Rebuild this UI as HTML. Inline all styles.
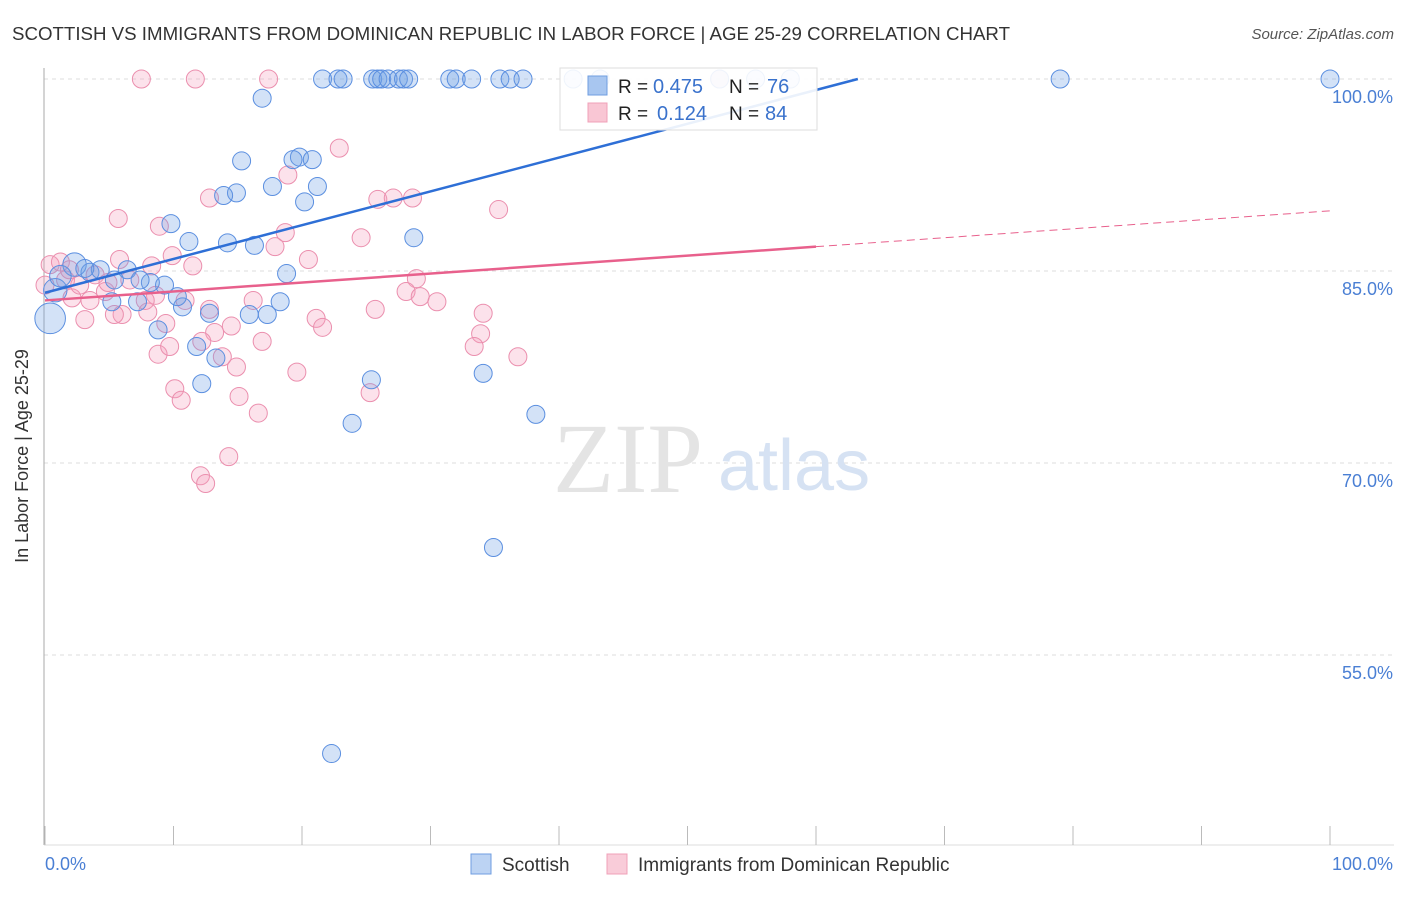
<!DOCTYPE html>
<html><head><meta charset="utf-8"><style>
body{margin:0;background:#fff;font-family:"Liberation Sans",sans-serif;}
</style></head><body>
<svg width="1406" height="892" xmlns="http://www.w3.org/2000/svg" font-family="Liberation Sans, sans-serif">
<text x="12" y="40" font-size="18.5" fill="#333" textLength="998" lengthAdjust="spacingAndGlyphs">SCOTTISH VS IMMIGRANTS FROM DOMINICAN REPUBLIC IN LABOR FORCE | AGE 25-29 CORRELATION CHART</text>
<text x="1394" y="39" font-size="15" fill="#555" text-anchor="end" font-style="italic">Source: ZipAtlas.com</text>
<g id="grid"></g>
<text x="553" y="492" font-size="100" fill="#e4e4e4" font-family="Liberation Serif, serif">ZIP</text>
<text x="718" y="490" font-size="72" fill="#d6e2f3">atlas</text>
<line x1="44" y1="68" x2="44" y2="845" stroke="#aaa"/>
<line x1="44" y1="845" x2="1394" y2="845" stroke="#ddd"/>
<g id="ticks"></g>
<g id="pts"></g>
<g id="lines"></g>
<text x="28" y="456" font-size="18" fill="#333" text-anchor="middle" transform="rotate(-90 28 456)">In Labor Force | Age 25-29</text>
<text x="45" y="870" font-size="18" fill="#4a7fd4">0.0%</text>
<text x="1393" y="870" font-size="18" fill="#4a7fd4" text-anchor="end">100.0%</text>
<g>
<rect x="560" y="68" width="257" height="62" fill="#fff" fill-opacity="0.9" stroke="#ddd"/>
<rect x="588" y="76" width="19" height="19" fill="#a8c6f0" stroke="#6f9ee0"/>
<rect x="588" y="103" width="19" height="19" fill="#f9c6d4" stroke="#f0a0b8"/>
<text x="618" y="93" font-size="19" fill="#222">R =</text>
<text x="653" y="93" font-size="20" fill="#3a72cc">0.475</text>
<text x="729" y="93" font-size="19" fill="#222">N =</text>
<text x="767" y="93" font-size="20" fill="#3a72cc">76</text>
<text x="618" y="120" font-size="19" fill="#222">R =</text>
<text x="657" y="120" font-size="20" fill="#3a72cc">0.124</text>
<text x="729" y="120" font-size="19" fill="#222">N =</text>
<text x="765" y="120" font-size="20" fill="#3a72cc">84</text>
</g>
<g>
<rect x="471" y="854" width="20" height="20" fill="#bcd3f3" stroke="#6f9ee0"/>
<text x="502" y="871" font-size="19" fill="#333">Scottish</text>
<rect x="607" y="854" width="20" height="20" fill="#f9ccd9" stroke="#f0a0b8"/>
<text x="638" y="871" font-size="19" fill="#333">Immigrants from Dominican Republic</text>
</g>
</svg>
<script>
const yTicks=[100,85,70,55];
const yTickLabels=["100.0%","85.0%","70.0%","55.0%"];
const xTicks=[0,10,20,30,40,50,60,70,80,90,100];
const blueX=[21.6,22.8,23.2,25.5,25.9,26.2,26.7,27.5,27.9,28.3,31.5,32.0,33.2,35.4,36.2,37.2,41.1,43.2,52.5,55.3,58.0,79.0,100,16.9,15.3,19.8,19.3,20.8,17.7,21.2,14.9,13.9,20.2,9.8,11.2,14.2,16.3,28.7,18.8,6.4,18.3,17.3,15.9,12.8,10.7,10.3,9.3,8.2,8.8,11.8,13.3,12.2,25.4,34.1,23.9,38.2,34.9,22.3,2.3,0.8,3.5,4.3,5.4,7.4,1.2,3.1,5.2,7.2,0.4];
const blueY=[100,100,100,100,100,100,100,100,100,100,100,100,100,100,100,100,100,100,100,100,100,100,100,98.5,93.6,93.9,93.7,93.7,91.6,91.6,91.1,90.9,90.4,88.7,87.3,87.2,87.0,87.6,84.8,85.1,82.6,81.6,81.6,81.7,82.2,83.0,83.9,84.1,80.4,79.1,78.2,76.2,76.5,77.0,73.1,73.8,63.4,47.3,85.5,83.5,84.9,85.1,84.3,84.3,84.6,85.2,82.6,82.6,81.3];
const blueSize=[1,1,1,1,1,1,1,1,1,1,1,1,1,1,1,1,1,1,1,1,1,1,1,1,1,1,1,1,1,1,1,1,1,1,1,1,1,1,1,1,1,1,1,1,1,1,1,1,1,1,1,1,1,1,1,1,1,1,1.3,1.3,1,1,1,1,1.2,1,1,1,1.7];
const pinkX=[7.5,11.7,17.4,52.5,22.9,18.9,12.8,25.9,27.1,28.6,35.3,5.7,8.9,18.7,24.6,17.9,9.9,20.5,8.3,11.5,28.9,28.1,29.2,30.5,25.7,34.1,33.9,33.4,36.8,21.1,21.6,19.6,25.3,16.2,16.9,14.5,13.2,12.8,10.9,12.2,13.8,14.9,8.8,9.7,9.4,10.1,10.6,15.1,16.6,14.3,12.1,12.5,8.6,8.0,6.0,5.4,3.1,2.1,3.5,4.7,0.4,1.2,1.6,2.7,3.9,4.9,6.6,7.8,0,1.9,5.8];
const pinkY=[100,100,100,100,94.6,92.5,90.7,90.6,90.7,90.7,89.8,89.1,88.5,88.0,87.6,86.9,86.2,85.9,85.4,85.4,84.4,83.4,83.0,82.6,82.0,81.7,80.1,79.1,78.3,81.3,80.6,77.1,75.5,82.7,79.5,80.7,80.2,82.0,82.7,79.5,78.3,77.5,78.5,79.1,80.9,75.8,74.9,75.2,73.9,70.5,69.0,68.4,83.1,81.8,81.6,81.6,81.2,82.9,82.7,83.4,85.5,85.7,84.3,83.9,84.7,84.1,84.3,82.7,83.9,85.1,85.9];
const blueFit=[83.3,0.264];
const pinkFit=[82.7,0.07];
const pinkSolidEnd=60;
const NS="http://www.w3.org/2000/svg";
const sx=v=>45+v*12.85, sy=v=>79+(100-v)*12.8;
function mk(tag,attrs,parent){const e=document.createElementNS(NS,tag);for(const k in attrs)e.setAttribute(k,attrs[k]);document.getElementById(parent).appendChild(e);return e;}
yTicks.forEach((t,i)=>{
 const l=mk('line',{x1:44,x2:1394,y1:sy(t),y2:sy(t),stroke:'#ddd','stroke-dasharray':'4,4'},'grid');
 
 
 const tx=mk('text',{x:1393,y:sy(t)+24,'font-size':18,fill:'#4a7fd4','text-anchor':'end'},'grid');
 tx.textContent=yTickLabels[i];
 
 
});
xTicks.forEach(t=>{
 const l=mk('line',{x1:sx(t),x2:sx(t),y1:826,y2:845,stroke:'#bbb'},'ticks');
 
 
});
pinkX.forEach((x,i)=>{
 const c=mk('circle',{cx:sx(x),cy:sy(pinkY[i]),r:9,fill:'rgba(244,160,188,0.3)',stroke:'#eb8fae','stroke-width':1},'pts');
 
 
});
blueX.forEach((x,i)=>{
 const c=mk('circle',{cx:sx(x),cy:sy(blueY[i]),r:9*blueSize[i],fill:'rgba(110,158,230,0.3)',stroke:'#5b8fe0','stroke-width':1},'pts');
 
 
});
const bEnd=(100-blueFit[0])/blueFit[1];
const bl=mk('line',{x1:sx(0),y1:sy(blueFit[0]),x2:sx(bEnd),y2:sy(100),stroke:'#2e6fd6','stroke-width':2.5},'lines');


const pl=mk('line',{x1:sx(0),y1:sy(pinkFit[0]),x2:sx(pinkSolidEnd),y2:sy(pinkFit[0]+pinkFit[1]*pinkSolidEnd),stroke:'#e8608c','stroke-width':2.5},'lines');


const pd=mk('line',{x1:sx(pinkSolidEnd),y1:sy(pinkFit[0]+pinkFit[1]*pinkSolidEnd),x2:sx(100),y2:sy(pinkFit[0]+pinkFit[1]*100),stroke:'#e8608c','stroke-width':1,'stroke-dasharray':'8,5'},'lines');


</script>
</body></html>
